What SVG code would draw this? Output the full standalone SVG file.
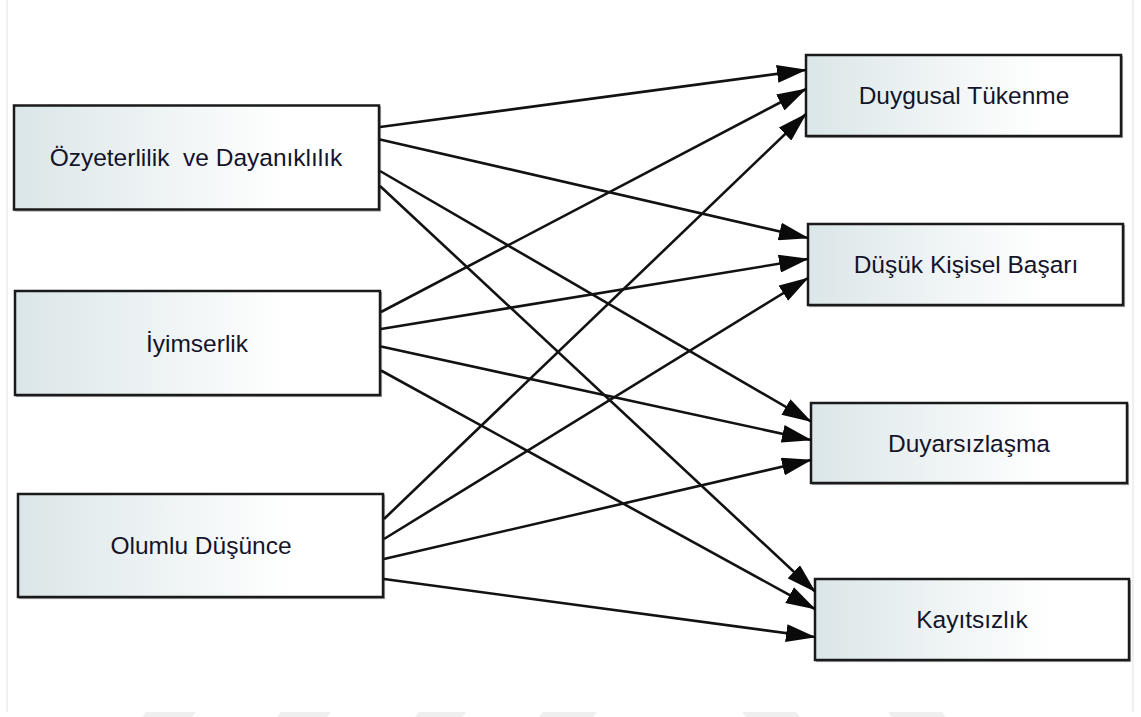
<svg xmlns="http://www.w3.org/2000/svg" width="1141" height="717" viewBox="0 0 1141 717">
  <defs>
    <linearGradient id="boxFill" x1="0" y1="0" x2="1" y2="0">
      <stop offset="0" stop-color="#dbe6e8"/>
      <stop offset="0.75" stop-color="#ffffff"/>
      <stop offset="1" stop-color="#ffffff"/>
    </linearGradient>
    <marker id="arrow" markerUnits="userSpaceOnUse" markerWidth="30" markerHeight="18" refX="29" refY="9" orient="auto">
      <path d="M0,0 L30,9 L0,18 Z" fill="#0a0a0a"/>
    </marker>
    <style>
      .box { fill: url(#boxFill); stroke: #1a1a1a; stroke-width: 2.5; }
      .shadow { fill: none; stroke: #a5a5a5; stroke-width: 1.2; }
      .label { font-family: "Liberation Sans", Arial, sans-serif; font-size: 24.5px; fill: #14142a; text-anchor: middle; }
      .edge { fill: none; stroke: #121212; stroke-width: 2.6; marker-end: url(#arrow); }
      .frame { stroke: #ebebeb; stroke-width: 1.5; }
      .stripe { fill: #efefef; }
    </style>
  </defs>

  <rect width="1141" height="717" fill="#ffffff"/>

  <!-- page frame and faint strip along the bottom -->
  <g id="page">
    <line class="frame" x1="7" y1="0" x2="7" y2="712"/>
    <line class="frame" x1="1133" y1="0" x2="1133" y2="712"/>
    <polygon class="stripe" points="146,712 196,712 192,717 142,717"/>
    <polygon class="stripe" points="281,712 331,712 327,717 277,717"/>
    <polygon class="stripe" points="419,712 466,712 462,717 415,717"/>
    <polygon class="stripe" points="543,712 597,712 593,717 539,717"/>
    <polygon class="stripe" points="742,712 796,712 800,717 746,717"/>
    <polygon class="stripe" points="888,712 942,712 946,717 892,717"/>
  </g>

  <!-- predictors -->
  <g id="node-ozyeterlilik">
    <rect class="shadow" x="15.5" y="107" width="365" height="104"/>
    <rect class="box" x="14" y="105.5" width="365" height="104"/>
    <text class="label" x="196" y="166" xml:space="preserve">Özyeterlilik  ve Dayanıklılık</text>
  </g>
  <g id="node-iyimserlik">
    <rect class="shadow" x="16.5" y="292.5" width="365" height="104"/>
    <rect class="box" x="15" y="291" width="365" height="104"/>
    <text class="label" x="197" y="352">İyimserlik</text>
  </g>
  <g id="node-olumlu">
    <rect class="shadow" x="19.5" y="495.5" width="365" height="103"/>
    <rect class="box" x="18" y="494" width="365" height="103"/>
    <text class="label" x="201" y="554">Olumlu Düşünce</text>
  </g>

  <!-- outcomes -->
  <g id="node-duygusal">
    <rect class="shadow" x="807.5" y="56.5" width="315" height="81"/>
    <rect class="box" x="806" y="55" width="315" height="81"/>
    <text class="label" x="964" y="104">Duygusal Tükenme</text>
  </g>
  <g id="node-dusuk">
    <rect class="shadow" x="809.5" y="225.5" width="315" height="81"/>
    <rect class="box" x="808" y="224" width="315" height="81"/>
    <text class="label" x="966" y="273">Düşük Kişisel Başarı</text>
  </g>
  <g id="node-duyarsizlasma">
    <rect class="shadow" x="812.5" y="404.5" width="316" height="80"/>
    <rect class="box" x="811" y="403" width="316" height="80"/>
    <text class="label" x="969" y="452">Duyarsızlaşma</text>
  </g>
  <g id="node-kayitsizlik">
    <rect class="shadow" x="816.5" y="580.5" width="314" height="81"/>
    <rect class="box" x="815" y="579" width="314" height="81"/>
    <text class="label" x="972" y="628">Kayıtsızlık</text>
  </g>

  <!-- paths -->
  <g id="connectors">
    <line class="edge" x1="380" y1="127" x2="806" y2="70"/>
    <line class="edge" x1="380" y1="139.5" x2="808" y2="238"/>
    <line class="edge" x1="380" y1="171" x2="811" y2="421.5"/>
    <line class="edge" x1="380" y1="186" x2="815" y2="591.5"/>

    <line class="edge" x1="381" y1="312" x2="806" y2="89"/>
    <line class="edge" x1="381" y1="329" x2="808" y2="259"/>
    <line class="edge" x1="381" y1="346.5" x2="811" y2="440"/>
    <line class="edge" x1="381" y1="370.5" x2="815" y2="609"/>

    <line class="edge" x1="384" y1="519" x2="806" y2="114"/>
    <line class="edge" x1="384" y1="539" x2="808" y2="278"/>
    <line class="edge" x1="384" y1="559" x2="811" y2="460"/>
    <line class="edge" x1="384" y1="579" x2="815" y2="637"/>
  </g>
</svg>
